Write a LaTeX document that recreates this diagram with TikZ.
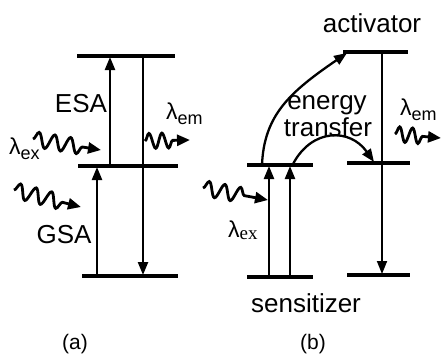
\documentclass[tikz,border=0pt]{standalone}
\usepackage{fontspec}
\setmainfont{Liberation Sans}
\newfontfamily\seriffam{Liberation Serif}
\usetikzlibrary{arrows.meta,decorations.pathmorphing}
\newcommand{\lam}[1]{{\fontsize{23}{23}\selectfont λ}\raisebox{-5pt}{\fontsize{18}{18}\selectfont #1}}
\newcommand{\lams}[1]{{\fontsize{23}{23}\selectfont λ}\raisebox{-2pt}{\fontsize{19}{19}\selectfont\seriffam #1}}
\begin{document}
\begin{tikzpicture}[x=1pt,y=-1pt,
  level/.style={line width=3.8pt},
  trans/.style={line width=2.3pt,-{Triangle[length=13pt,width=10pt]}},
  curvearr/.style={line width=2.3pt,-{Triangle[length=13pt,width=10pt]}},
  wave/.style={line width=2.8pt,-{Triangle[length=13pt,width=11pt]},
    decorate,decoration={snake,segment length=#1,amplitude=7.5pt,post length=17pt,pre length=0pt}},
  lbl/.style={font=\fontsize{26}{30}\selectfont,inner sep=0pt,anchor=base},
  sub/.style={inner sep=0pt,anchor=base west},
]
\useasboundingbox (0,0) rectangle (441,360);
% ---------- panel (a) ----------
\coordinate (aT1) at (77,56);  \coordinate (aT2) at (175,56);
\coordinate (aM1) at (78,166); \coordinate (aM2) at (178,166);
\coordinate (aB1) at (82,276); \coordinate (aB2) at (178,276);
\draw[level] (aT1) -- (aT2);
\draw[level] (aM1) -- (aM2);
\draw[level] (aB1) -- (aB2);
\coordinate (esaS) at (110,166); \coordinate (esaE) at (110,57);
\coordinate (gsaS) at (97,276);  \coordinate (gsaE) at (97,167);
\coordinate (emS) at (143,56);   \coordinate (emE) at (143,275);
\draw[trans] (esaS) -- (esaE);
\draw[trans] (gsaS) -- (gsaE);
\draw[trans] (emS) -- (emE);
\node[lbl] (esa) at (81,112) {ESA};
\node[lbl] (gsa) at (64,243) {GSA};
\node[sub] (lexa) at (9,154) {\lam{ex}};
\node[sub] (lema) at (166,119) {\lam{em}};
\coordinate (w1s) at (33,139); \coordinate (w1e) at (101,150);
\coordinate (w2s) at (14,190); \coordinate (w2e) at (81,207);
\coordinate (w3s) at (145,141); \coordinate (w3e) at (190,140);
\draw[wave=16pt] (w1s) -- (w1e);
\draw[wave=16pt] (w2s) -- (w2e);
\draw[wave=13pt] (w3s) -- (w3e);
\node[font=\fontsize{21}{24}\selectfont,inner sep=0pt,anchor=base] (la) at (75,349) {(a)};
% ---------- panel (b) ----------
\coordinate (sM1) at (247,165); \coordinate (sM2) at (313,165);
\coordinate (sB1) at (247,277); \coordinate (sB2) at (313,277);
\coordinate (acT1) at (343,52); \coordinate (acT2) at (408,52);
\coordinate (acM1) at (347,163); \coordinate (acM2) at (410,163);
\coordinate (acB1) at (347,275); \coordinate (acB2) at (410,275);
\draw[level] (sM1) -- (sM2);
\draw[level] (sB1) -- (sB2);
\draw[level] (acT1) -- (acT2);
\draw[level] (acM1) -- (acM2);
\draw[level] (acB1) -- (acB2);
\coordinate (u1s) at (269,277); \coordinate (u1e) at (269,166);
\coordinate (u2s) at (290,277); \coordinate (u2e) at (290,166);
\coordinate (dS) at (382,52);   \coordinate (dE) at (382,274);
\draw[trans] (u1s) -- (u1e);
\draw[trans] (u2s) -- (u2e);
\draw[line width=1.8pt,-{Triangle[length=13pt,width=10pt]}] (dS) -- (dE);
\coordinate (c1s) at (262,165); \coordinate (c1e) at (347,53);
\coordinate (c2s) at (293,164); \coordinate (c2e) at (374,162);
\draw[curvearr] (c1s) .. controls (264,115) and (290,92) .. (c1e);
\draw[curvearr] (c2s) .. controls (312,128) and (350,128) .. (c2e);
\node[lbl] (act) at (372,32) {activator};
\node[lbl] (en) at (327,109) {energy};
\node[lbl] (tr) at (328,136) {transfer};
\node[lbl] (sen) at (306,312) {sensitizer};
\node[sub] (lemb) at (400,115) {\lam{em}};
\node[sub] (lexb) at (228,237) {\lams{ex}};
\coordinate (w4s) at (203,188); \coordinate (w4e) at (268,200);
\coordinate (w5s) at (395,134); \coordinate (w5e) at (441,138);
\draw[wave=16pt] (w4s) -- (w4e);
\draw[wave=13pt] (w5s) -- (w5e);
\node[font=\fontsize{21}{24}\selectfont,inner sep=0pt,anchor=base] (lb) at (313,349) {(b)};
\end{tikzpicture}
\end{document}
